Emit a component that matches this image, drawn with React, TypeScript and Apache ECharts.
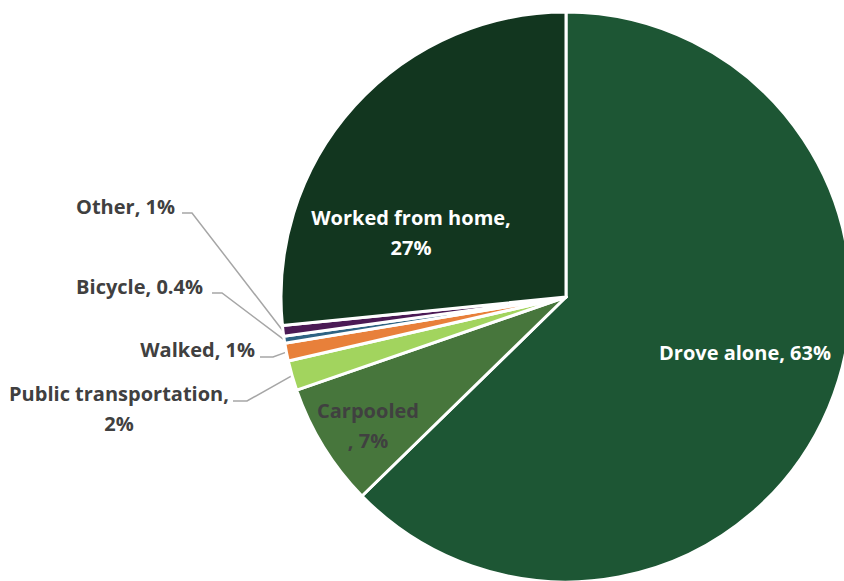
import React, { useEffect, useRef } from "react";
import * as echarts from "echarts";

const categories = [
  "Drove alone",
  "Carpooled",
  "Public transportation",
  "Walked",
  "Bicycle",
  "Other",
  "Worked from home",
];
const shares = [62.7, 7.0, 1.7, 1.0, 0.4, 0.6, 26.6];
const colors = ["#1d5634", "#47763c", "#a2d45e", "#e8803a", "#2e6383", "#4b1a55", "#12361f"];

// label placement (text anchor) and wrapping
const labelPlacement = [
  { x: 745, y: 352, align: "center", wrap: "none", color: "#ffffff", outside: false },
  { x: 368, y: 425, align: "center", wrap: "before", color: "#404040", outside: false },
  { x: 119, y: 408, align: "center", wrap: "after", color: "#404040", outside: true, elbow: [247, 401], end: [233, 401] },
  { x: 255, y: 349, align: "right", wrap: "none", color: "#404040", outside: true, elbow: [273, 357], end: [260, 357] },
  { x: 203, y: 286, align: "right", wrap: "none", color: "#404040", outside: true, elbow: [222, 293], end: [212, 293] },
  { x: 175, y: 206, align: "right", wrap: "none", color: "#404040", outside: true, elbow: [192, 213], end: [182, 213] },
  { x: 411, y: 232, align: "center", wrap: "after", color: "#ffffff", outside: false },
];

const CX = 566;
const CY = 297;
const R = 285;

function fmtPct(v: number) {
  return v < 0.5 ? v.toFixed(1) : String(Math.round(v));
}

export default function App() {
  const ref = useRef<HTMLDivElement>(null);
  useEffect(() => {
    if (!ref.current) return;
    const chart = echarts.init(ref.current, null, { renderer: "svg" });
    const total = shares.reduce((a, b) => a + b, 0);
    const edgePts: number[][] = [];
    let acc = 0;
    shares.forEach((v) => {
      const mid = ((acc + v / 2) / total) * Math.PI * 2;
      edgePts.push([CX + R * Math.sin(mid), CY - R * Math.cos(mid)]);
      acc += v;
    });

    const data = categories.map((name, i) => {
      const p = labelPlacement[i];
      return {
        name,
        value: shares[i],
        itemStyle: { color: colors[i] },
        label: {
          position: p.outside ? "outside" : "inside",
          color: p.color,
          align: p.align,
        },
        labelLine: { show: p.outside },
      };
    });

    chart.setOption({
      animation: false,
      series: [
        {
          type: "pie",
          center: [CX, CY],
          radius: R,
          startAngle: 90,
          clockwise: true,
          avoidLabelOverlap: false,
          itemStyle: { borderColor: "#ffffff", borderWidth: 3 },
          label: {
            show: true,
            fontFamily: "Open Sans",
            fontWeight: "bold",
            fontSize: 20,
            lineHeight: 30,
            formatter: (params: any) => {
              const p = labelPlacement[params.dataIndex];
              const pct = fmtPct(params.value) + "%";
              if (p.wrap === "after") return `${params.name},\n${pct}`;
              if (p.wrap === "before") return `${params.name}\n, ${pct}`;
              return `${params.name}, ${pct}`;
            },
          },
          labelLine: {
            show: true,
            length: 10,
            length2: 10,
            lineStyle: { color: "#a6a6a6", width: 1.5 },
          },
          labelLayout: (params: any) => {
            const p: any = labelPlacement[params.dataIndex];
            const out: any = {
              x: p.x,
              y: p.y,
              align: p.align,
              verticalAlign: "middle",
            };
            if (p.outside) {
              out.labelLinePoints = [edgePts[params.dataIndex], p.elbow, p.end];
            }
            return out;
          },
          data,
        },
      ],
    });
    return () => chart.dispose();
  }, []);
  return (
    <div
      ref={ref}
      style={{ position: "fixed", left: 0, top: 0, width: 844, height: 581, background: "#ffffff" }}
    />
  );
}
